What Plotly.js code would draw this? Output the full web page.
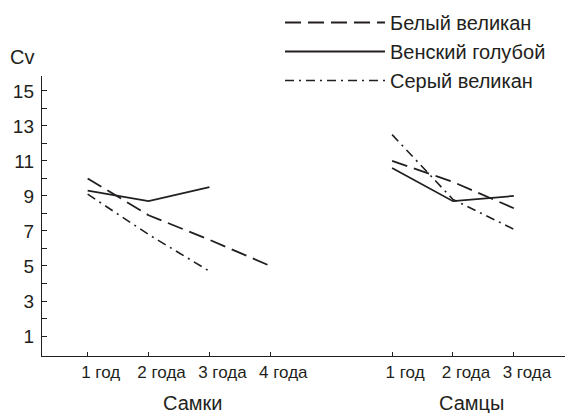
<!DOCTYPE html>
<html>
<head>
<meta charset="utf-8">
<script src="https://cdn.plot.ly/plotly-3.0.1.min.js"></script>
<style>html,body{margin:0;padding:0;background:#fff;}</style>
</head>
<body>
<div id="chart" style="width:565px;height:413px;"></div>
<script>
// Positions of age groups on the x axis (females 1-4, males 6-8)
var femalePos = [1, 2, 3, 4];
var malePos = [6, 7, 8];
var xTickVals = [1, 2, 3, 4, 6, 7, 8];
var xTickText = ['1 год', '2 года', '3 года', '4 года', '1 год', '2 года', '3 года'];
var yTickVals = [1, 2, 3, 4, 5, 6, 7, 8, 9, 10, 11, 12, 13, 14, 15];
var yTickText = ['1', '', '3', '', '5', '', '7', '', '9', '', '11', '', '13', '', '15'];

var seriesNames = ['Белый великан', 'Венский голубой', 'Серый великан'];
// Cv values, females (Самки)
var femaleBeliy = [10.0, 7.9, 6.5, 5.0];
var femaleVenskiy = [9.3, 8.7, 9.5];
var femaleSeriy = [9.1, 6.8, 4.7];
// Cv values, males (Самцы)
var maleBeliy = [11.0, 9.8, 8.3];
var maleVenskiy = [10.6, 8.7, 9.0];
var maleSeriy = [12.5, 8.8, 7.1];

var groupLabels = ['Самки', 'Самцы'];

var ink = '#231f20';
var styles = [
  {dash: '16px,7px', width: 1.8},
  {dash: 'solid', width: 1.8},
  {dash: '9px,5px,2px,5px', width: 1.6}
];

var femaleData = [femaleBeliy, femaleVenskiy, femaleSeriy];
var maleData = [maleBeliy, maleVenskiy, maleSeriy];
var traces = [];
for (var i = 0; i < 3; i++) {
  traces.push({
    x: femalePos.slice(0, femaleData[i].length), y: femaleData[i],
    type: 'scatter', mode: 'lines', name: seriesNames[i], legendgroup: 'g' + i,
    line: {color: ink, width: styles[i].width, dash: styles[i].dash}
  });
}
for (var j = 0; j < 3; j++) {
  traces.push({
    x: malePos, y: maleData[j],
    type: 'scatter', mode: 'lines', name: seriesNames[j], legendgroup: 'g' + j, showlegend: false,
    line: {color: ink, width: styles[j].width, dash: styles[j].dash}
  });
}

var font = 'Liberation Sans, Arial, sans-serif';
var layout = {
  width: 565, height: 413,
  margin: {l: 42, r: 0, t: 76, b: 57},
  paper_bgcolor: '#fff', plot_bgcolor: '#fff',
  font: {family: font, color: ink, size: 17},
  showlegend: true,
  legend: {
    x: (280 - 42) / 523, y: (356 - 3) / 280, xanchor: 'left', yanchor: 'top',
    font: {family: font, size: 20, color: ink},
    itemwidth: 100, tracegroupgap: 0, bgcolor: 'rgba(0,0,0,0)'
  },
  xaxis: {
    range: [0.25, 8.84], showgrid: false, zeroline: false,
    showline: true, linecolor: ink, linewidth: 1.2,
    tickvals: xTickVals, ticktext: xTickText,
    ticks: 'inside', ticklen: 4, tickcolor: ink, tickwidth: 1,
    ticklabelshift: 13,
    tickfont: {family: font, size: 17, color: ink}
  },
  yaxis: {
    range: [-0.14, 15.85], showgrid: false, zeroline: false,
    showline: true, linecolor: ink, linewidth: 1.2,
    tickvals: yTickVals, ticktext: yTickText,
    ticks: 'inside', ticklen: 5, tickcolor: ink, tickwidth: 1,
    ticklabelstandoff: 3,
    tickfont: {family: font, size: 19, color: ink}
  },
  annotations: [
    {text: 'Cv', xref: 'paper', yref: 'paper', x: (22 - 42) / 523, y: (356 - 57) / 280,
     showarrow: false, xanchor: 'center', yanchor: 'middle', font: {family: font, size: 20, color: ink}},
    {text: groupLabels[0], xref: 'x', yref: 'paper', x: 2.72, y: (356 - 403) / 280,
     showarrow: false, xanchor: 'center', yanchor: 'middle', font: {family: font, size: 20, color: ink}},
    {text: groupLabels[1], xref: 'x', yref: 'paper', x: 7.3, y: (356 - 403) / 280,
     showarrow: false, xanchor: 'center', yanchor: 'middle', font: {family: font, size: 20, color: ink}}
  ]
};

Plotly.newPlot('chart', traces, layout, {displayModeBar: false, staticPlot: true});
</script>
</body>
</html>
